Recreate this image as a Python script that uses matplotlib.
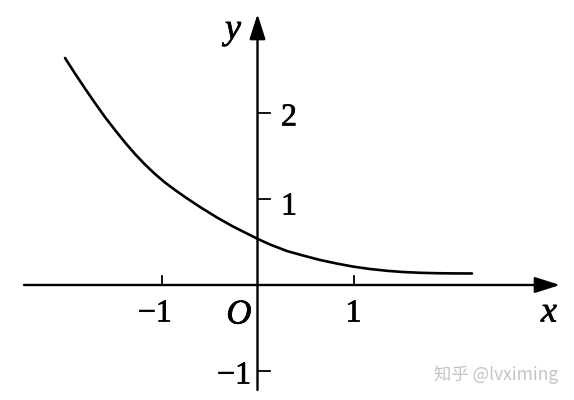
import matplotlib
matplotlib.use("Agg")
import matplotlib.pyplot as plt
import matplotlib.patheffects as pe

# Curve points (x, y in axis units)
curve_x = [-2.005, -1.901, -1.797, -1.693, -1.589, -1.484, -1.380, -1.276, -1.172,
           -1.068, -0.964, -0.859, -0.755, -0.599, -0.422, -0.255, -0.078, 0.0,
           0.130, 0.307, 0.474, 0.651, 0.828, 0.995, 1.172, 1.349, 1.516, 1.693,
           1.870, 2.036, 2.234]
curve_y = [2.640, 2.459, 2.285, 2.116, 1.953, 1.802, 1.657, 1.523, 1.401,
           1.291, 1.192, 1.105, 1.023, 0.907, 0.785, 0.680, 0.581, 0.537,
           0.471, 0.395, 0.343, 0.291, 0.249, 0.214, 0.186, 0.165, 0.151, 0.142,
           0.137, 0.135, 0.134]

x_ticks = [-1, 1]
x_tick_labels = ["\u22121", "1"]
y_ticks = [2, 1, -1]
y_tick_labels = ["2", "1", "\u22121"]

W, H = 574, 400
ox, oy = 257.5, 285.0   # origin in pixels
sx, sy = 96.0, 86.0     # pixels per unit

fig = plt.figure(figsize=(W / 100, H / 100), dpi=100)
ax = fig.add_axes([0, 0, 1, 1])
ax.set_xlim(-ox / sx, (W - ox) / sx)
ax.set_ylim(-(H - oy) / sy, oy / sy)
ax.axis("off")

def px2x(p):
    return (p - ox) / sx

def py2y(p):
    return (oy - p) / sy

serif = "Liberation Serif"
thick = [pe.withStroke(linewidth=0.5, foreground="black")]
lw = 1.7

# axes with arrows
arrow = dict(arrowstyle="-|>,head_length=0.85,head_width=0.27",
             lw=lw, color="black", shrinkA=0, shrinkB=0, mutation_scale=18)
ax.annotate("", xy=(px2x(560), 0), xytext=(px2x(24), 0), arrowprops=arrow)
ax.annotate("", xy=(0, py2y(14)), xytext=(0, py2y(390)), arrowprops=arrow)

# curve
ax.plot(curve_x, curve_y, color="black", lw=1.9, solid_capstyle="round",
        solid_joinstyle="round")

# x ticks
for t, lab in zip(x_ticks, x_tick_labels):
    ax.plot([t, t], [0, 9 / sy], color="black", lw=1.3)
    ax.text(t - (0.07 if t < 0 else 0), py2y(314), lab, ha="center", va="center",
            fontsize=23, family=serif, path_effects=thick)

# y ticks
label_pos = {2: (289, 118), 1: (289, 207), -1: (234, 376)}
for t, lab in zip(y_ticks, y_tick_labels):
    ax.plot([0, 12 / sx], [t, t], color="black", lw=1.3)
    lx, ly = label_pos[t]
    ax.text(px2x(lx), py2y(ly), lab, ha="center", va="center",
            fontsize=23, family=serif, path_effects=thick)

# axis labels
ax.text(px2x(239), py2y(315), "O", ha="center", va="center", fontsize=25,
        family=serif, style="italic", path_effects=thick)
ax.text(px2x(549), py2y(313), "x", ha="center", va="center", fontsize=26,
        family=serif, style="italic", path_effects=thick)
ax.text(px2x(233), py2y(30), "y", ha="center", va="center", fontsize=26,
        family=serif, style="italic", path_effects=thick)

# watermark
ax.text(px2x(496), py2y(375), "知乎 @lvximing", ha="center", va="center",
        fontsize=12.5, color="#c4c4c4",
        family=["Noto Sans CJK SC", "DejaVu Sans"])

fig.savefig("out.png", dpi=100, facecolor="white")
